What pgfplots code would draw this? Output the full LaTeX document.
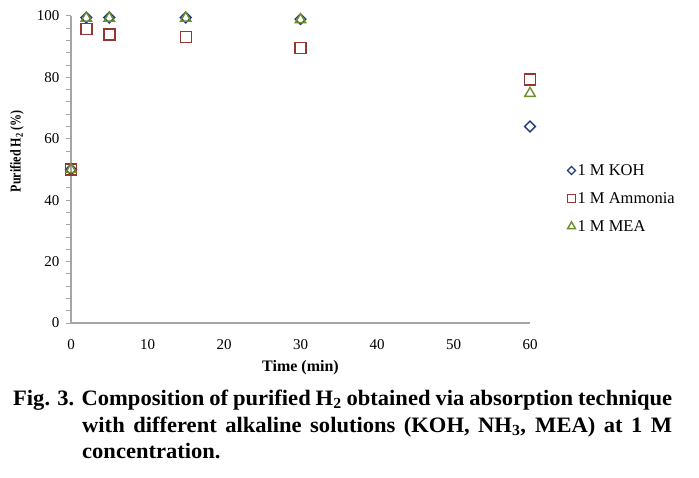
\documentclass[border=0pt]{standalone}
\usepackage{fontspec}
\setmainfont{Liberation Serif}
\newfontfamily\capfont[FakeStretch=1.025]{Liberation Serif}
\newfontfamily\ylabfont[FakeStretch=0.8]{Liberation Serif}
\usepackage{pgfplots}
\pgfplotsset{compat=1.18}
\definecolor{kohc}{HTML}{1F3A78}
\definecolor{ammc}{HTML}{943634}
\definecolor{meac}{HTML}{6E8E2E}
\definecolor{axc}{HTML}{A6A6A6}
\begin{document}
\begin{tikzpicture}[x=1pt,y=1pt]
\useasboundingbox (0,0) rectangle (699,477);
\begin{axis}[
  at={(71pt,154pt)}, anchor=south west,
  scale only axis, width=459pt, height=307pt,
  xmin=0, xmax=60, ymin=0, ymax=100,
  xtick={0,10,...,60}, ytick={0,20,...,100},
  minor y tick num=4,
  axis x line*=bottom, axis y line*=left,
  axis line style={axc, line width=1.2pt},
  tick style={axc, line width=1pt},
  x tick style={draw=none},
  tick align=outside,
  major tick length=5pt, minor tick length=5pt,
  /pgf/number format/assume math mode=true,
  tick label style={font=\fontsize{15}{18}\selectfont},
  xticklabel style={yshift=-8pt},
  yticklabel style={xshift=-3pt},
  xlabel={\textbf{Time (min)}},
  ylabel={\ylabfont\textbf{Purified H\textsubscript{2} (\%)}},
  every axis x label/.style={at={(axis description cs:0.5,-0.147)}, anchor=center, font=\fontsize{16}{18}\selectfont},
  every axis y label/.style={at={(axis description cs:-0.1176,0.56)}, rotate=90, anchor=center, font=\fontsize{15}{18}\selectfont},
  legend style={at={(rel axis cs:1.081,0.524)}, anchor=north west, draw=none, fill=none,
    font=\fontsize{16.5}{18}\selectfont, row sep=11.5pt, inner sep=0pt},
  legend cell align=left,
  legend image code/.code={\draw[#1, /tikz/every mark/.append style={scale=0.75}] plot coordinates {(4pt,0pt)};},
  clip=false,
]
\addplot[only marks, mark=square, mark size=3.8pt, mark options={rotate=45, kohc, line width=1.3pt}]
  coordinates {(0,50) (2,99.5) (5,99.5) (15,99.5) (30,99) (60,64)};
\addlegendentry{1 M KOH}
\addplot[only marks, mark=square, mark size=5.5pt, mark options={ammc, line width=1.5pt}]
  coordinates {(0,50) (2,95.8) (5,93.9) (15,93.2) (30,89.5) (60,79.3)};
\addlegendentry{1 M Ammonia}
\addplot[only marks, mark=triangle, mark size=6pt, mark options={meac, line width=1.4pt}]
  coordinates {(0,50) (2,99.3) (5,99.3) (15,99.3) (30,98.8) (60,74.8)};
\addlegendentry{1 M MEA}
\end{axis}
\node[anchor=base west, inner sep=0pt] at (13,72) {\parbox[t]{659pt}{\capfont\bfseries\fontsize{22}{27}\selectfont
\hangindent=69pt \hangafter=1 \noindent Fig. 3. Composition of purified H\textsubscript{2} obtained via absorption technique\linebreak with different alkaline solutions (KOH, NH\textsubscript{3}, MEA) at 1 M\linebreak concentration.}};
\end{tikzpicture}
\end{document}
